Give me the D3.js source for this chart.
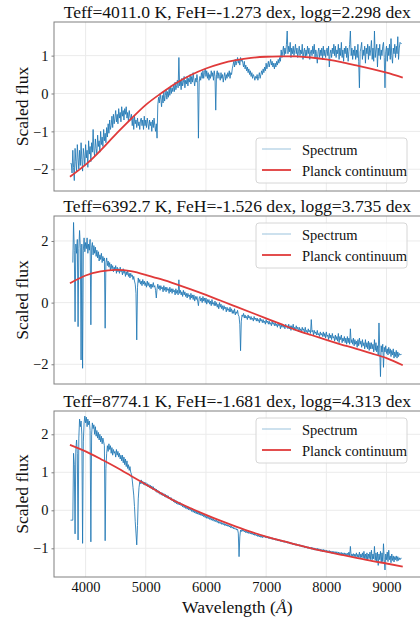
<!DOCTYPE html>
<html>
<head>
<meta charset="utf-8">
<script src="https://cdn.jsdelivr.net/npm/d3@7"></script>
<style>
  body { margin: 0; background: #fff; }
  text { font-family: "Liberation Serif", "Times New Roman", serif; fill: #111; }
</style>
</head>
<body>
<svg id="chart"></svg>
<script>
// flux of each spectrum, read every 12.5 Å from 3750 to 9250 Å (one row = 200 Å)
const fluxStart = 3750;
const fluxStep = 12.5;

const flux1 = [
  -1.85, -1.85, -2.1, -1.5, -1.95, -2.3, -1.45, -1.8, -2.05, -1.35, -1.7, -2.0, -1.5, -1.9, -1.3, -1.75,
  -2.05, -1.45, -1.65, -1.9, -1.35, -1.7, -1.5, -1.95, -1.25, -1.6, -1.4, -1.8, -1.3, -1.55, -0.95, -1.5,
  -1.65, -1.2, -1.45, -1.6, -1.1, -1.4, -1.25, -1.55, -1.0, -1.35, -1.15, -1.4, -0.95, -1.25, -1.05, -1.3,
  -0.9, -1.15, -0.8, -1.05, -0.7, -0.95, -0.85, -0.6, -0.9, -0.55, -0.8, -0.65, -0.45, -0.75, -0.55, -0.8,
  -0.4, -0.65, -0.5, -0.75, -0.35, -0.6, -0.45, -0.7, -0.4, -0.55, -0.35, -0.65, -0.5, -0.75, -0.45, -0.6,
  -0.7, -0.55, -0.85, -0.65, -0.95, -0.6, -0.8, -0.7, -0.9, -0.65, -0.85, -0.75, -0.95, -0.7, -0.65, -0.85,
  -0.7, -0.95, -0.6, -0.85, -0.7, -0.9, -0.65, -0.8, -0.95, -0.7, -0.85, -0.75, -1.0, -0.7, -0.9, -0.65,
  -0.85, -1.0, -0.8, -1.18, -0.3, -0.1, -0.25, 0.0, -0.15, -0.35, -0.05, -0.25, 0.05, -0.2, -0.05, 0.1,
  -0.15, 0.05, -0.1, 0.15, -0.05, 0.2, 0.0, 0.15, 0.05, 0.25, 0.05, 0.3, 0.1, 0.2, 0.35, 0.15,
  0.95, 0.2, 0.35, 0.1, 0.4, 0.2, 0.3, 0.45, 0.15, 0.35, 0.25, 0.45, 0.2, 0.4, 0.3, 0.5,
  0.25, 0.45, 0.3, 0.55, 0.35, 0.2, 0.4, 0.3, 0.5, 0.35, -1.18, 0.3, 0.45, 0.35, 0.55, 0.4,
  0.6, 0.4, 0.55, 0.65, 0.45, 0.6, 0.4, 0.55, 0.35, 0.5, 0.4, 0.6, 0.45, 0.55, 0.35, 0.6,
  0.45, -0.44, 0.5, 0.6, 0.4, 0.55, 0.45, 0.35, 0.55, 0.4, 0.5, 0.3, 0.45, 0.55, 0.35, 0.5,
  0.4, 0.55, 0.45, 0.6, 0.4, 0.55, 0.5, 0.65, 0.75, 0.85, 0.7, 0.9, 0.75, 0.85, 0.95, 0.8,
  0.9, 0.75, 0.95, 0.85, 0.9, 0.8, 0.7, 0.85, 0.65, 0.75, 0.6, 0.7, 0.55, 0.65, 0.5, 0.6,
  0.45, 0.55, 0.4, 0.5, 0.45, 0.35, 0.45, 0.4, 0.5, 0.35, 0.45, 0.55, 0.4, 0.5, 0.6, 0.5,
  0.65, 0.55, 0.7, 0.6, 0.8, 0.65, 0.75, 0.85, 0.7, 0.8, 0.9, 0.75, 0.85, 0.7, 0.8, 0.65,
  0.8, 0.7, 0.85, 0.75, 0.9, 0.8, 0.95, 0.85, 1.15, 0.95, 1.1, 1.25, 1.0, 1.2, 1.05, 1.3,
  1.65, 1.05, 1.25, 1.1, 1.35, 0.95, 1.2, 1.05, 1.25, 1.0, 1.15, 1.3, 1.05, 1.2, 0.95, 1.1,
  1.25, 1.0, 1.15, 1.05, 1.3, 0.9, 1.1, 1.2, 0.95, 1.15, 1.0, 1.25, 1.05, 1.2, 0.9, 1.1,
  1.15, 1.0, 1.25, 1.05, 1.3, 0.95, 1.15, 1.05, 0.8, 1.1, 1.2, 0.95, 1.15, 1.0, 1.2, 0.9,
  1.25, 1.0, 1.15, 0.95, 1.1, 1.2, 1.0, 1.25, 0.7, 1.05, 1.15, 0.95, 1.2, 1.05, 1.3, 1.0,
  1.25, 0.95, 1.15, 1.05, 1.3, 0.9, 1.2, 1.0, 1.35, 0.95, 1.15, 0.85, 1.2, 1.05, 1.25, 0.95,
  1.2, 0.85, 1.1, 1.3, 1.65, 1.0, 1.2, 0.9, 1.15, 1.0, 1.25, 0.9, 1.15, 0.95, 1.3, 0.85,
  0.15, 1.1, 1.2, 1.35, 0.9, 1.15, 1.0, 1.25, 0.8, 1.2, 1.05, 1.3, 0.9, 1.25, 1.0, 1.15,
  1.4, 0.9, 1.2, 0.85, 1.65, 0.95, 1.15, 1.3, 0.7, 1.2, 1.0, 1.3, 0.9, 1.15, 1.0, 1.25,
  1.35, 0.95, 0.15, 1.1, 1.25, 0.85, 1.2, 1.0, 1.3, 0.9, 1.45, 1.0, 0.8, 1.2, 1.05, 1.3,
  0.95, 1.25, 1.05, 1.5, 0.9, 1.2, 1.35, 1.32, 1.32
];

const flux2 = [
  null, null, null, 1.3, 2.6, 1.7, -0.62, 1.9, 1.6, 2.05, -0.78, 1.75, 2.34, 1.8, -1.86, 1.9,
  -2.13, 1.7, 2.1, 1.65, 1.95, 1.75, 2.1, 1.6, 1.9, 1.7, 2.05, -0.72, 1.8, 1.95, 1.55, 1.85,
  1.6, 1.8, 1.5, 1.7, 1.45, 1.65, 1.35, 1.55, 1.4, 1.6, 1.3, 1.5, 1.35, 1.45, -0.83, 1.3,
  1.45, 1.2, 1.35, 1.15, 1.3, 1.05, 1.25, 1.1, 1.2, 1.0, 1.15, 1.05, 1.2, 0.95, 1.15, 1.0,
  1.1, 0.95, 1.15, 1.0, 1.05, 0.9, 1.1, 0.95, 1.05, 0.85, 1.0, 0.9, 1.05, 0.85, 0.95, 0.8,
  0.95, 0.85, 0.9, 0.75, 0.85, 0.7, 0.6, 0.3, -1.21, 0.5, 0.8, 0.65, 0.75, 0.6, 0.7, 0.55,
  0.75, 0.6, 0.7, 0.55, 0.65, 0.5, 0.7, 0.55, 0.65, 0.5, 0.6, 0.45, 0.6, 0.5, 0.65, 0.5,
  0.55, 0.4, 0.15, 0.45, 0.6, 0.45, 0.55, 0.4, 0.55, 0.45, 0.5, 0.35, 0.55, 0.4, 0.5, 0.35,
  0.5, 0.4, 0.45, 0.3, 0.5, 0.35, 0.45, 0.3, 0.45, 0.35, 0.4, 0.25, 0.45, 0.3, 0.4, 0.25,
  0.74, 0.3, 0.4, 0.25, 0.35, 0.2, 0.4, 0.25, 0.35, 0.2, 0.3, 0.15, 0.3, 0.2, 0.25, 0.1,
  0.3, 0.15, 0.25, 0.1, 0.25, 0.05, 0.2, 0.1, 0.2, 0.05, -0.1, 0.15, 0.2, 0.05, 0.15, 0.0,
  0.2, 0.05, 0.15, 0.0, 0.15, -0.05, 0.1, 0.0, 0.1, -0.05, 0.05, -0.1, 0.1, -0.05, 0.0, -0.1,
  0.05, -0.1, 0.0, -0.15, -0.05, -0.2, 0.0, -0.15, -0.05, -0.2, -0.1, -0.25, -0.1, -0.2, -0.15, -0.3,
  -0.15, -0.25, -0.2, -0.3, -0.15, -0.3, -0.2, -0.35, -0.25, -0.35, -0.2, -0.4, -0.3, -0.35, -0.25, -0.4,
  -0.45, -0.7, -1.56, -0.6, -0.4, -0.45, -0.35, -0.5, -0.4, -0.5, -0.45, -0.55, -0.4, -0.5, -0.45, -0.55,
  -0.45, -0.55, -0.5, -0.6, -0.45, -0.55, -0.5, -0.6, -0.5, -0.6, -0.55, -0.65, -0.5, -0.6, -0.55, -0.65,
  -0.55, -0.65, -0.6, -0.7, -0.55, -0.65, -0.6, -0.7, -0.6, -0.7, -0.65, -0.75, -0.6, -0.7, -0.65, -0.75,
  -0.65, -0.75, -0.7, -0.8, -0.65, -0.75, -0.7, -0.85, -0.7, -0.8, -0.7, -0.8, -0.75, -0.85, -0.7, -0.8,
  -0.75, -0.85, -0.7, -0.85, -0.75, -0.9, -0.75, -0.85, -0.7, -0.9, -0.8, -0.9, -0.75, -0.85, -0.8, -0.95,
  -0.8, -0.9, -0.85, -0.95, -0.8, -0.9, -0.85, -1.0, -0.8, -0.95, -0.9, -1.0, -0.85, -0.95, -0.9, -1.0,
  -0.55, -0.95, -0.9, -1.05, -0.9, -1.0, -0.95, -1.05, -0.9, -1.05, -1.0, -1.1, -0.95, -1.05, -1.0, -1.1,
  -0.95, -1.1, -1.0, -1.15, -0.95, -1.1, -1.05, -1.2, -1.0, -1.15, -1.05, -1.2, -1.0, -1.15, -1.1, -1.25,
  -1.05, -1.2, -1.1, -1.25, -1.0, -1.3, -1.1, -1.2, -1.05, -1.3, -1.15, -1.25, -1.1, -1.3, -1.15, -1.35,
  -1.1, -1.3, -1.15, -1.35, -0.85, -1.3, -1.2, -1.35, -1.15, -1.4, -1.2, -1.35, -1.25, -1.45, -1.2, -1.4,
  -1.15, -1.35, -1.25, -1.45, -1.2, -1.4, -1.3, -1.5, -1.2, -1.45, -1.3, -1.5, -1.25, -1.55, -1.3, -1.5,
  -1.3, -1.5, -1.35, -1.6, -1.2, -1.55, -1.3, -1.6, -1.4, -1.7, -0.66, -1.5, -2.4, -1.4, -1.6, -1.35,
  -2.1, -1.45, -1.6, -1.4, -1.65, -1.5, -1.7, -1.45, -1.65, -1.5, -1.75, -1.55, -1.7, -1.5, -1.8, -1.6,
  -1.75, -1.55, -1.8, -1.6, -1.75, -1.65, -1.7, -1.68, -1.68
];

const flux3 = [
  -0.26, -0.26, -0.26, -0.26, 1.5, 1.2, -0.62, 1.6, 1.85, 1.5, -0.78, 1.9, 2.4, 2.2, 2.35, 2.0,
  -0.87, 1.8, 2.3, 2.48, 2.3, 2.45, 2.2, 2.4, 2.25, 2.35, 2.1, -0.83, 2.0, 2.3, 2.15, 2.25,
  2.0, 2.2, 1.95, 2.1, 1.9, 2.05, 1.85, 2.0, 1.8, 1.95, 1.75, 1.9, 1.8, 1.7, -0.8, 1.1,
  1.5, 1.7, 1.55, 1.75, 1.6, 1.7, 1.5, 1.65, 1.45, 1.6, 1.5, 1.55, 1.4, 1.6, 1.45, 1.55,
  1.4, 1.5, 1.35, 1.45, 1.3, 1.45, 1.25, 1.4, 1.2, 1.35, 1.15, 1.3, 1.1, 1.2, 1.05, 1.15,
  1.0, 0.95, 0.8, 0.6, 0.4, 0.1, -0.3, -0.6, -0.91, -0.4, 0.3, 0.6, 0.75, 0.7, 0.8, 0.7,
  0.76, 0.68, 0.74, 0.66, 0.73, 0.64, 0.7, 0.62, 0.68, 0.6, 0.66, 0.58, 0.64, 0.55, 0.62, 0.54,
  0.58, 0.5, 0.56, 0.47, 0.53, 0.45, 0.5, 0.42, 0.48, 0.4, 0.46, 0.38, 0.44, 0.36, 0.42, 0.34,
  0.4, 0.32, 0.38, 0.3, 0.35, 0.27, 0.33, 0.25, 0.3, 0.22, 0.28, 0.19, 0.26, 0.17, 0.23, 0.15,
  0.22, 0.14, 0.2, 0.12, 0.17, 0.09, 0.15, 0.07, 0.13, 0.05, 0.11, 0.03, 0.09, 0.01, 0.07, 0.0,
  0.06, -0.03, 0.04, -0.05, 0.02, -0.07, 0.0, -0.09, -0.02, -0.1, -0.04, -0.12, -0.06, -0.13, -0.08, -0.15,
  -0.1, -0.17, -0.12, -0.19, -0.14, -0.21, -0.16, -0.22, -0.18, -0.24, -0.19, -0.26, -0.21, -0.27, -0.23, -0.29,
  -0.25, -0.3, -0.26, -0.32, -0.28, -0.34, -0.3, -0.35, -0.31, -0.37, -0.33, -0.38, -0.34, -0.4, -0.36, -0.41,
  -0.37, -0.42, -0.39, -0.44, -0.4, -0.46, -0.42, -0.47, -0.44, -0.49, -0.46, -0.5, -0.48, -0.52, -0.5, -0.6,
  -1.22, -0.7, -0.52, -0.56, -0.5, -0.55, -0.52, -0.57, -0.54, -0.59, -0.55, -0.6, -0.56, -0.61, -0.58, -0.62,
  -0.58, -0.63, -0.6, -0.65, -0.61, -0.66, -0.63, -0.67, -0.64, -0.69, -0.65, -0.7, -0.66, -0.71, -0.68, -0.72,
  -0.66, -0.71, -0.67, -0.72, -0.68, -0.73, -0.69, -0.74, -0.7, -0.75, -0.71, -0.76, -0.72, -0.77, -0.73, -0.78,
  -0.74, -0.79, -0.75, -0.8, -0.76, -0.81, -0.77, -0.82, -0.78, -0.83, -0.79, -0.84, -0.8, -0.85, -0.81, -0.86,
  -0.82, -0.87, -0.83, -0.88, -0.84, -0.89, -0.85, -0.9, -0.86, -0.91, -0.87, -0.92, -0.88, -0.93, -0.89, -0.94,
  -0.9, -0.95, -0.91, -0.96, -0.92, -0.97, -0.93, -0.98, -0.94, -0.99, -0.95, -1.0, -0.96, -1.01, -0.97, -1.02,
  -0.97, -1.03, -0.98, -1.04, -0.99, -1.05, -1.0, -1.05, -1.0, -1.06, -1.01, -1.07, -1.02, -1.08, -1.03, -1.09,
  -1.03, -1.09, -1.04, -1.1, -1.05, -1.11, -1.06, -1.12, -1.06, -1.12, -1.07, -1.13, -1.08, -1.14, -1.08, -1.14,
  -1.09, -1.15, -1.09, -1.16, -1.1, -1.16, -1.11, -1.17, -1.11, -1.17, -1.12, -1.18, -1.12, -1.18, -1.13, -1.19,
  -1.13, -1.19, -1.1, -1.2, -0.95, -1.2, -1.15, -1.21, -1.14, -1.22, -1.15, -1.22, -1.12, -1.23, -1.16, -1.24,
  -1.1, -1.25, -1.15, -1.24, -1.12, -1.26, -1.08, -1.27, -1.15, -1.28, -1.12, -1.3, -1.15, -1.27, -1.1, -1.3,
  -1.05, -1.3, -1.15, -1.28, -0.95, -1.32, -1.12, -1.35, -1.1, -1.45, -1.15, -1.3, -1.08, -1.38, -1.12, -1.35,
  -0.88, -1.3, -1.57, -1.15, -1.3, -1.1, -1.35, -1.05, -1.3, -1.2, -1.38, -1.15, -1.32, -1.2, -1.36, -1.22,
  -1.3, -1.2, -1.34, -1.22, -1.32, -1.25, -1.3, -1.26, -1.26
];

// Planck continuum fits
const planckWave = [3740, 4000, 4250, 4500, 4750, 5000, 5250, 5500, 5750, 6000, 6250, 6500,
                    6750, 7000, 7250, 7500, 7750, 8000, 8250, 8500, 8750, 9000, 9270];
const planck1 = [-2.2, -1.88, -1.5, -1.08, -0.68, -0.3, 0.0, 0.27, 0.49, 0.66, 0.79, 0.88,
                 0.94, 0.97, 0.98, 0.98, 0.95, 0.9, 0.83, 0.74, 0.65, 0.55, 0.42];
const planck2 = [0.63, 0.88, 1.01, 1.06, 1.02, 0.9, 0.76, 0.6, 0.43, 0.25, 0.06, -0.13,
                 -0.32, -0.51, -0.7, -0.89, -1.05, -1.21, -1.36, -1.5, -1.65, -1.8, -2.03];
const planck3 = [1.72, 1.55, 1.35, 1.14, 0.91, 0.68, 0.45, 0.23, 0.05, -0.12, -0.28, -0.43,
                 -0.57, -0.69, -0.8, -0.9, -1.0, -1.09, -1.17, -1.25, -1.33, -1.4, -1.48];

const titles = [
  "Teff=4011.0 K, FeH=-1.273 dex, logg=2.298 dex",
  "Teff=6392.7 K, FeH=-1.526 dex, logg=3.735 dex",
  "Teff=8774.1 K, FeH=-1.681 dex, logg=4.313 dex"
];
const xTicks = [4000, 5000, 6000, 7000, 8000, 9000];
const yTicks = [[-2, -1, 0, 1], [-2, 0, 2], [-1, 0, 1, 2]];
const yLimits = [[-2.575, 1.888], [-2.64, 2.81], [-1.755, 2.613]];
const legendLabels = ["Spectrum", "Planck continuum"];

const width = 420, height = 619;
const left = 54, right = 420.5;
const tops = [22, 216, 411], bottoms = [191, 384, 577];
const blue = "#1f77b4", red = "#e03a3a", spine = "#808080", gridColor = "#ebebeb";
const serif = "'Liberation Serif', 'Times New Roman', serif";

const svg = d3.select("#chart").attr("width", width).attr("height", height);

const x = d3.scaleLinear().domain([3475, 9565]).range([left, right]);
const minus = d => String(d).replace("-", "\u2212");

const spectra = [flux1, flux2, flux3];
const planck = [planck1, planck2, planck3];

spectra.forEach((flux, i) => {
  const top = tops[i], bottom = bottoms[i];
  const y = d3.scaleLinear().domain(yLimits[i]).range([bottom, top]);
  const g = svg.append("g");

  // grid
  g.selectAll(".gx").data(xTicks).join("line")
    .attr("x1", d => x(d)).attr("x2", d => x(d))
    .attr("y1", top).attr("y2", bottom)
    .attr("stroke", gridColor).attr("stroke-width", 1);
  g.selectAll(".gy").data(yTicks[i]).join("line")
    .attr("x1", left).attr("x2", right)
    .attr("y1", d => y(d)).attr("y2", d => y(d))
    .attr("stroke", gridColor).attr("stroke-width", 1);

  // frame
  g.append("rect")
    .attr("x", left).attr("y", top)
    .attr("width", right - left).attr("height", bottom - top)
    .attr("fill", "none").attr("stroke", spine).attr("stroke-width", 1);

  // y axis
  g.append("g")
    .attr("transform", `translate(${left},0)`)
    .call(d3.axisLeft(y).tickValues(yTicks[i]).tickSize(2.5).tickPadding(3).tickFormat(minus))
    .call(a => {
      a.select(".domain").remove();
      a.selectAll(".tick line").attr("stroke", spine);
      a.selectAll(".tick text").style("font-family", serif).style("font-size", "14.5px")
        .attr("fill", "#111");
    });

  // spectrum
  const pts = flux.map((v, k) => ({ w: fluxStart + k * fluxStep, v }));
  g.append("path")
    .datum(pts)
    .attr("fill", "none")
    .attr("stroke", blue)
    .attr("stroke-opacity", 0.85)
    .attr("stroke-width", 1)
    .attr("stroke-linejoin", "round")
    .attr("d", d3.line().defined(d => d.v != null).x(d => x(d.w)).y(d => y(d.v)));

  // Planck continuum
  g.append("path")
    .datum(planckWave.map((w, k) => ({ w, v: planck[i][k] })))
    .attr("fill", "none")
    .attr("stroke", red)
    .attr("stroke-width", 1.8)
    .attr("d", d3.line().curve(d3.curveNatural).x(d => x(d.w)).y(d => y(d.v)));

  // title
  svg.append("text")
    .attr("x", (left + right) / 2)
    .attr("y", top - 4.5)
    .attr("text-anchor", "middle")
    .style("font-size", "17.6px")
    .text(titles[i]);

  // y label
  svg.append("text")
    .attr("transform", `translate(28,${(top + bottom) / 2}) rotate(-90)`)
    .attr("text-anchor", "middle")
    .style("font-family", serif)
    .style("font-size", "17.6px")
    .text("Scaled flux");

  // legend
  const ly = i === 0 ? bottom - 53 : top + 7;
  const lg = svg.append("g").attr("transform", `translate(256,${ly})`);
  lg.append("rect")
    .attr("width", 151).attr("height", 45).attr("rx", 3)
    .attr("fill", "#fff").attr("fill-opacity", 0.8)
    .attr("stroke", "#d6d6d6").attr("stroke-width", 1);
  legendLabels.forEach((label, k) => {
    lg.append("line")
      .attr("x1", 6).attr("x2", 35)
      .attr("y1", 11 + k * 21).attr("y2", 11 + k * 21)
      .attr("stroke", k === 0 ? blue : red)
      .attr("stroke-opacity", k === 0 ? 0.45 : 1)
      .attr("stroke-width", k === 0 ? 1 : 1.8);
    lg.append("text")
      .attr("x", 46).attr("y", 16.5 + k * 21)
      .style("font-size", "14.5px")
      .text(label);
  });
});

// x axis labels on the bottom panel only
svg.append("g")
  .attr("transform", `translate(0,${bottoms[2]})`)
  .call(d3.axisBottom(x).tickValues(xTicks).tickSize(0).tickPadding(5).tickFormat(d3.format("d")))
  .call(a => {
    a.select(".domain").remove();
    a.selectAll(".tick text").style("font-family", serif).style("font-size", "14.5px")
      .attr("fill", "#111");
  });

const xl = svg.append("text")
  .attr("x", (left + right) / 2)
  .attr("y", 613)
  .attr("text-anchor", "middle")
  .style("font-size", "17.6px");
xl.append("tspan").text("Wavelength (");
xl.append("tspan").attr("font-style", "italic").text("\u00C5");
xl.append("tspan").text(")");
</script>
</body>
</html>
